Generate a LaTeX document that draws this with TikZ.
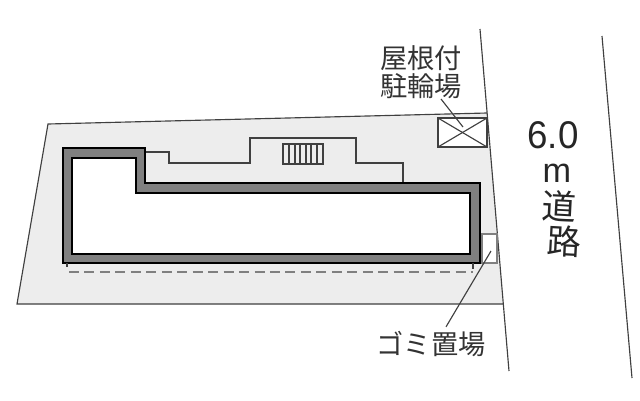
\documentclass[tikz,border=0pt]{standalone}
\usepackage{fontspec}
\setmainfont{Noto Sans CJK JP}
\newfontfamily\latinfont{Liberation Sans}
\tikzset{
	thinline/.style = {draw=black!75, line width=0.65pt},
	wallline/.style = {draw=black, line width=1.35pt},
	smalllabel/.style = {font=\fontsize{15.5}{15.5}\selectfont, text=black!80, inner sep=0pt},
	roadlabel/.style = {font=\fontsize{19.5}{19.5}\selectfont, text=black!85, inner sep=0pt},
}
\begin{document}
\begin{tikzpicture}[x=0.02cm,y=-0.02cm]
	\useasboundingbox (0,0) rectangle (640,400);
	% site
	\fill[black!7] (48,124) -- (487,113) -- (503,304) -- (17,304) -- cycle;
	\draw[thinline] (487,113) -- (48,124) -- (17,304) -- (503,304);
	% road
	\draw[thinline] (480,29) -- (509,371);
	\draw[thinline] (602,36) -- (632,378);
	% terrace
	\draw[thinline] (145,152) -- (169,152) -- (169,163) -- (250,163) -- (250,138) -- (356,138) -- (356,163) -- (403,163) -- (403,183);
	% stairs
	\draw[thinline] (283,144) rectangle (323,164);
	\foreach \x in {289,295,300,306,311,317}
		\draw[thinline] (\x,144) -- (\x,164);
	% building
	\fill[white] (72,158) -- (136,158) -- (136,193) -- (470,193) -- (470,254) -- (72,254) -- cycle;
	\fill[black!50, even odd rule] (63,148) -- (145,148) -- (145,183) -- (480,183) -- (480,263) -- (63,263) -- cycle
		(72,158) -- (136,158) -- (136,193) -- (470,193) -- (470,254) -- (72,254) -- cycle;
	\draw[wallline] (63,148) -- (145,148) -- (145,183) -- (480,183) -- (480,263) -- (63,263) -- cycle;
	\draw[wallline] (72,158) -- (136,158) -- (136,193) -- (470,193) -- (470,254) -- (72,254) -- cycle;
	\draw[thinline] (67,263) -- (67,267);
	\draw[thinline] (473,263) -- (473,269);
	\draw[draw=black!50, line width=1.25pt, dash pattern=on 5.7pt off 3.1pt] (69,272) -- (473,272);
	% bike shelter
	\draw[thinline, fill=white] (438,118) rectangle (487,147);
	\draw[thinline] (438,118) -- (487,147);
	\draw[thinline] (438,147) -- (487,118);
	% garbage
	\draw[thinline, draw=black!50, fill=white] (482,234) rectangle (497,263);
	% labels
	\node (bike1) at (421,58) [smalllabel] {屋根付};
	\node (bike2) at (421,86) [smalllabel] {駐輪場};
	\node (garbage) at (431,344) [smalllabel] {ゴミ置場};
	\node (road1) at (553,135) [roadlabel, font=\fontsize{22}{22}\selectfont, xscale=0.95] {\latinfont 6.0};
	\node (road2) at (557,173) [roadlabel] {\latinfont m};
	\node (road3) at (559,206) [roadlabel, rotate=-3] {道};
	\node (road4) at (564,241) [roadlabel, rotate=-3] {路};
	% leaders
	\coordinate (bikeend) at (463,127);
	\coordinate (garbageend) at (491,251);
	\draw[thinline] (bike2.south) ++(20,0) -- (bikeend);
	\draw[thinline] (garbage.north) ++(15,-4) -- (garbageend);
\end{tikzpicture}
\end{document}
